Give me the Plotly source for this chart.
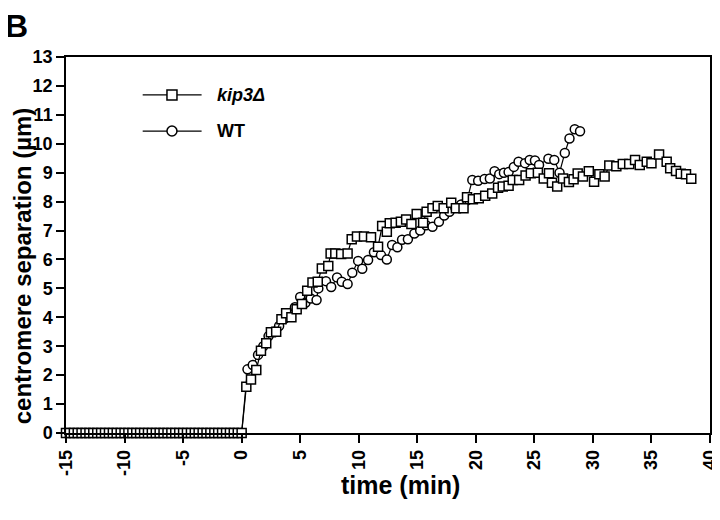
import plotly.graph_objects as go

# kip3 deletion: flat before anaphase onset, then separation (um) vs time (min)
kip3_time = [
    -15, -14.67, -14.33, -14, -13.67, -13.33, -13, -12.67, -12.33, -12,
    -11.67, -11.33, -11, -10.67, -10.33, -10, -9.67, -9.33, -9, -8.67,
    -8.33, -8, -7.67, -7.33, -7, -6.67, -6.33, -6, -5.67, -5.33,
    -5, -4.67, -4.33, -4, -3.67, -3.33, -3, -2.67, -2.33, -2,
    -1.67, -1.33, -1, -0.67, -0.33,
    0, 0.4, 0.8, 1.25, 1.65, 2.1, 2.5, 2.95, 3.4, 3.8,
    4.25, 4.7, 5.15, 5.6, 6.05, 6.5, 6.85, 7.4, 7.6, 8.0,
    8.5, 9.05, 9.4, 9.85, 10.45, 11.05, 11.65, 12.0, 12.4, 12.65,
    13.15, 13.6, 14.05, 14.5, 14.95, 15.5, 15.8, 16.3, 16.75, 17.25,
    17.9, 18.3, 18.95, 19.25, 19.75, 20.25, 20.8, 21.4, 21.9, 22.3,
    22.8, 23.15, 23.7, 24.25, 24.7, 25.3, 25.8, 26.25, 26.5, 26.95,
    27.45, 27.95, 28.35, 28.7, 29.15, 29.65, 30.1, 30.55, 31.0, 31.4,
    32.0, 32.55, 33.1, 33.6, 34.0, 34.6, 35.0, 35.65, 36.3, 36.6,
    37.1, 37.5, 37.95, 38.4,
]
kip3_sep = [0] * 45 + [
    0, 1.6, 1.85, 2.18, 2.84, 3.1, 3.48, 3.5, 3.93, 4.14,
    4.0, 4.28, 4.46, 4.92, 5.2, 5.23, 5.69, 5.77, 6.21, 6.21,
    6.19, 6.21, 6.7, 6.79, 6.79, 6.77, 6.44, 7.16, 6.96, 7.25,
    7.27, 7.3, 7.38, 7.23, 7.57, 7.27, 7.65, 7.77, 7.85, 7.77,
    7.96, 7.77, 7.77, 8.15, 8.08, 8.12, 8.2, 8.28, 8.48, 8.52,
    8.55, 8.75, 8.75, 8.9, 8.98, 9.0, 8.8, 8.98, 8.65, 8.52,
    8.8, 8.68, 8.77, 8.97, 8.87, 9.05, 8.69, 8.95, 8.87, 9.25,
    9.22, 9.3, 9.3, 9.44, 9.27, 9.38, 9.33, 9.63, 9.38, 9.15,
    9.06, 8.96, 8.95, 8.79,
]

# wild type
wt_time = [
    0, 0.5, 0.95, 1.4, 1.85, 2.3, 2.75, 3.2, 3.65, 4.1,
    4.55, 5.0, 5.45, 5.9, 6.4, 6.55, 7.2, 7.65, 8.15, 8.55,
    9.05, 9.45, 9.95, 10.3, 10.8, 11.3, 11.9, 12.4, 12.85, 13.3,
    13.7, 14.2, 14.75, 15.25, 15.75, 16.3, 16.85, 17.3, 17.75, 18.25,
    18.75, 19.25, 19.7, 20.2, 20.75, 21.2, 21.6, 22.0, 22.4, 22.8,
    23.25, 23.65, 24.2, 24.6, 25.05, 25.4, 26.2, 26.7, 27.15, 27.6,
    28.0, 28.45, 28.9,
]
wt_sep = [
    0, 2.2, 2.35, 2.7, 3.0, 3.35, 3.5, 3.7, 3.95, 4.1,
    4.35, 4.7, 4.5, 4.65, 4.6, 5.0, 5.25, 5.05, 5.38, 5.23,
    5.15, 5.54, 5.95, 5.68, 5.98, 6.25, 6.15, 6.0, 6.5, 6.42,
    6.68, 6.7, 6.9, 7.0, 7.18, 7.13, 7.3, 7.52, 7.65, 7.8,
    7.9, 8.05, 8.75, 8.72, 8.78, 8.8, 9.05, 8.95, 9.0, 9.02,
    9.2, 9.38, 9.33, 9.44, 9.42, 9.27, 9.48, 9.44, 9.0, 9.68,
    10.18, 10.5, 10.43,
]

x_ticks = [-15, -10, -5, 0, 5, 10, 15, 20, 25, 30, 35, 40]
y_ticks = list(range(0, 14))

FONT = "Liberation Sans, Arial, sans-serif"

fig = go.Figure()
fig.add_trace(go.Scatter(
    x=wt_time, y=wt_sep, mode="lines+markers", name="WT",
    line=dict(color="black", width=1.2),
    marker=dict(symbol="circle", size=9, color="white",
                line=dict(color="black", width=1.5)),
    cliponaxis=False,
))
fig.add_trace(go.Scatter(
    x=kip3_time, y=kip3_sep, mode="lines+markers", name="kip3Δ",
    line=dict(color="black", width=1.2),
    marker=dict(symbol="square", size=9, color="white",
                line=dict(color="black", width=1.5)),
    cliponaxis=False,
))

# hand-drawn legend, like the original figure
for yy, sym, label in [(11.69, "rect", "<b><i>kip3Δ</i></b>"), (10.44, "circle", "<b>WT</b>")]:
    fig.add_shape(type="line", x0=-8.45, x1=-3.42, y0=yy, y1=yy,
                  line=dict(color="black", width=1.3))
    fig.add_shape(type=sym, xsizemode="pixel", ysizemode="pixel",
                  xanchor=-5.95, yanchor=yy, x0=-5, x1=5, y0=-5, y1=5,
                  fillcolor="white", line=dict(color="black", width=1.5))
    fig.add_annotation(x=-2.3, y=yy, text=label, showarrow=False,
                       xanchor="left", yanchor="middle",
                       font=dict(family=FONT, size=18, color="black"))

fig.add_annotation(xref="paper", yref="paper", x=-0.098, y=1.135,
                   text="<b>B</b>", showarrow=False, xanchor="left", yanchor="top",
                   font=dict(family=FONT, size=32, color="black"))
fig.add_annotation(xref="paper", yref="paper", x=-0.068, y=0.444,
                   text="<b>centromere separation (µm)</b>", textangle=-90,
                   showarrow=False, xanchor="center", yanchor="middle",
                   font=dict(family=FONT, size=24, color="black"))
fig.add_annotation(xref="paper", yref="paper", x=0.519, y=-0.138,
                   text="<b>time (min)</b>", showarrow=False,
                   xanchor="center", yanchor="middle",
                   font=dict(family=FONT, size=25, color="black"))

fig.update_xaxes(
    range=[-15, 40], tickvals=x_ticks, ticktext=[f"<b>{v}</b>" for v in x_ticks],
    tickangle=-90, ticks="outside", ticklen=8, tickwidth=1.5, tickcolor="black",
    showline=True, linecolor="black", linewidth=1.5, mirror=True,
    showgrid=False, zeroline=False, automargin=False,
    tickfont=dict(family=FONT, size=18, color="black"),
)
fig.update_yaxes(
    range=[0, 13], tickvals=y_ticks, ticktext=[f"<b>{v}</b>" for v in y_ticks],
    ticks="outside", ticklen=8, tickwidth=1.5, tickcolor="black",
    showline=True, linecolor="black", linewidth=1.5, mirror=True,
    showgrid=False, zeroline=False, automargin=False,
    tickfont=dict(family=FONT, size=18, color="black"),
)
# the page adds an 8px body margin, so shift the plot area up/left by that
fig.update_layout(
    width=720, height=520,
    margin=dict(l=58, r=18, t=49, b=95),
    plot_bgcolor="white", paper_bgcolor="white",
    showlegend=False,
)

fig.write_html("out.html")
